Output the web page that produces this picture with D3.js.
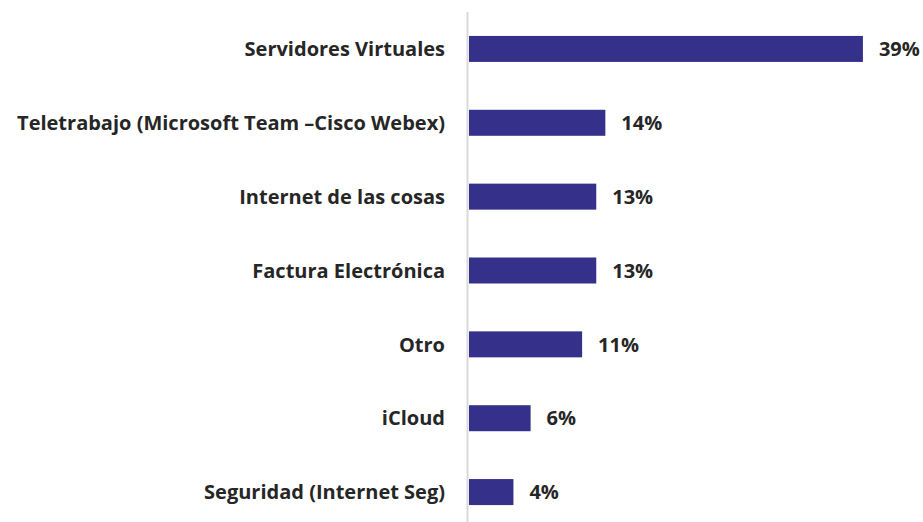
<!DOCTYPE html>
<html>
<head>
<meta charset="utf-8">
<script src="https://cdn.jsdelivr.net/npm/d3@7"></script>
<style>
  body{margin:0;background:#fff;}
  text{font-family:"Open Sans",sans-serif;font-weight:bold;fill:#262626;}
</style>
</head>
<body>
<div id="chart"></div>
<script>
// categorias y valores (%)
var categories=["Servidores Virtuales","Teletrabajo (Microsoft Team \u2013Cisco Webex)","Internet de las cosas","Factura Electrónica","Otro","iCloud","Seguridad (Internet Seg)"];
var values=[39.0,13.5,12.6,12.6,11.2,6.1,4.4];
var valueLabels=["39%","14%","13%","13%","11%","6%","4%"];

var width=923;
var height=522;
var svg=d3.select("#chart")
          .append("svg")
          .attr("width",width)
          .attr("height",height);

var x=d3.scaleLinear().domain([0,40]).range([469,873]);
var y=d3.scaleBand().domain(categories).range([12,529]).paddingInner(0.648).paddingOuter(0.324);

svg.selectAll(".bar")
  .data(values)
  .enter()
  .append("rect")
  .attr("class","bar")
  .attr("x",x(0))
  .attr("y",function(d,i){return y(categories[i]);})
  .attr("width",function(d){return x(d)-x(0);})
  .attr("height",y.bandwidth())
  .attr("fill","#35308a");

// eje vertical
svg.append("line")
  .attr("x1",467.5).attr("x2",467.5)
  .attr("y1",12).attr("y2",height)
  .attr("stroke","#d9d9d9").attr("stroke-width",2);

svg.selectAll(".cat")
  .data(categories)
  .enter()
  .append("text")
  .attr("class","cat")
  .attr("x",445)
  .attr("y",function(d){return y(d)+y.bandwidth()/2;})
  .attr("dy","0.36em")
  .attr("text-anchor","end")
  .style("font-size","20px")
  .text(function(d){return d;});

svg.selectAll(".val")
  .data(values)
  .enter()
  .append("text")
  .attr("class","val")
  .attr("x",function(d){return x(d)+16;})
  .attr("y",function(d,i){return y(categories[i])+y.bandwidth()/2;})
  .attr("dy","0.36em")
  .style("font-size","20px")
  .text(function(d,i){return valueLabels[i];});
</script>
</body>
</html>
